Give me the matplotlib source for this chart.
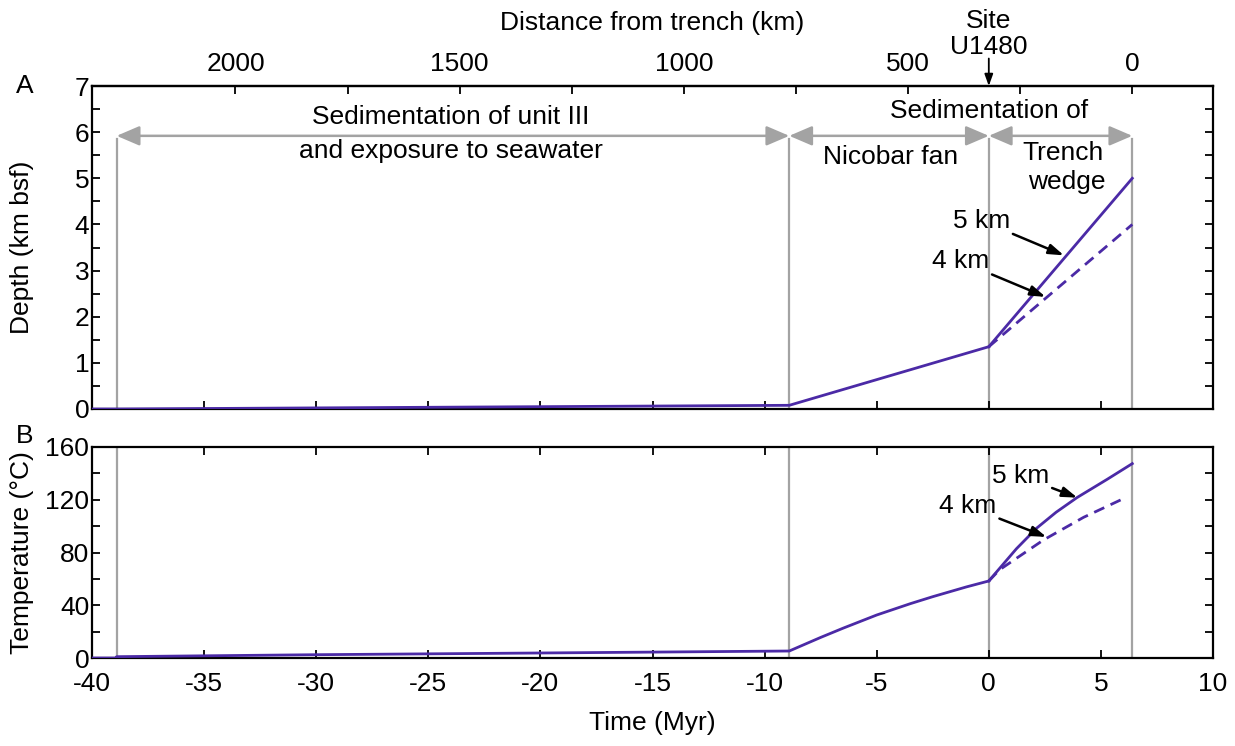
import numpy as np
import matplotlib.pyplot as plt
from matplotlib.ticker import MultipleLocator, FixedLocator

plt.rcParams['font.family'] = ['Liberation Sans', 'DejaVu Sans']
plt.rcParams['font.size'] = 19
plt.rcParams['axes.unicode_minus'] = False

# Datos
# Profundidad (km bsf) vs tiempo (Myr)
t_depth = [-40, -38.9, -8.9, 0]
depth = [0, 0.0, 0.08, 1.35]
t_wedge = [0, 6.4]
depth_5km = [1.35, 5.0]
depth_4km = [1.35, 4.0]

# Temperatura (C) vs tiempo (Myr)
t_temp = [-40, -38.9, -38.9, -30, -20, -8.9, -7.5, -6.5, -5, -3.5, -2.5, -1, 0]
temp = [0, 0, 1.0, 2.5, 3.8, 5.3, 15.6, 22.6, 32.6, 41.2, 46.5, 53.9, 58.4]
t_temp_5km = [0, 1.23, 2.13, 3.0, 3.93, 5.28, 6.4]
temp_5km = [58.4, 82.8, 98.4, 110.5, 121.6, 135.5, 147.4]
t_temp_4km = [0, 0.48, 2.43, 4.23, 6.1]
temp_4km = [58.4, 66.9, 89.4, 106.7, 121.6]

# Limites de las etapas
stage_bounds = [-38.9, -8.9, 0, 6.4]
trench_time = 6.4          # 0 km de la fosa
km_per_myr = 50.0
dist_ticks = [0, 250, 500, 750, 1000, 1250, 1500, 1750, 2000]
dist_labels = ['0', '', '500', '', '1000', '', '1500', '', '2000']

purple = '#4B2AA6'
gray = '#A3A3A3'


def t2d(t):
    return (trench_time - np.asarray(t)) * km_per_myr


def d2t(d):
    return trench_time - np.asarray(d) / km_per_myr


fig = plt.figure(figsize=(12.35, 7.46), dpi=100)
ax1 = fig.add_axes([92 / 1235, 1 - 409 / 746, 1121 / 1235, 323 / 746])
ax2 = fig.add_axes([92 / 1235, 1 - 658 / 746, 1121 / 1235, 211 / 746])

for ax in (ax1, ax2):
    for sp in ax.spines.values():
        sp.set_linewidth(1.6)
    ax.set_xlim(-40, 10)
    ax.xaxis.set_major_locator(MultipleLocator(5))
    ax.tick_params(which='both', direction='in', width=1.3, length=6,
                   right=True, labelsize=19)
    ax.tick_params(axis='y', pad=2)

# ---- Panel A: profundidad ----
ax1.set_ylim(0, 7)
ax1.yaxis.set_major_locator(MultipleLocator(1))
ax1.yaxis.set_minor_locator(MultipleLocator(0.5))
ax1.tick_params(axis='x', labelbottom=False, top=False)

for x in stage_bounds:
    ax1.plot([x, x], [0, 5.85], color=gray, lw=1.6, zorder=1)
for a, b in zip(stage_bounds[:-1], stage_bounds[1:]):
    ax1.annotate('', xy=(b, 5.92), xytext=(a, 5.92),
                 arrowprops=dict(arrowstyle='<|-|>,head_length=0.7,head_width=0.3',
                                 color=gray, lw=1.8, shrinkA=0, shrinkB=0,
                                 mutation_scale=20))

ax1.plot(t_depth, depth, color=purple, lw=2.0, zorder=3)
ax1.plot(t_wedge, depth_5km, color=purple, lw=2.0, zorder=3)
ax1.plot(t_wedge, depth_4km, color=purple, lw=2.0, ls=(0, (4, 2.5)), zorder=3)

ax1.text(-24.0, 6.33, 'Sedimentation of unit III', ha='center', va='center')
ax1.text(-24.0, 5.6, 'and exposure to seawater', ha='center', va='center')
ax1.text(0, 6.45, 'Sedimentation of', ha='center', va='center')
ax1.text(-4.4, 5.46, 'Nicobar fan', ha='center', va='center')
ax1.text(3.3, 5.55, 'Trench', ha='center', va='center')
ax1.text(3.5, 4.92, 'wedge', ha='center', va='center')

black_arrow = dict(arrowstyle='-|>,head_length=0.6,head_width=0.2', color='black',
                   lw=1.8, shrinkA=0, shrinkB=0, mutation_scale=15)
ax1.annotate('5 km', xy=(3.35, 3.33), xytext=(0.95, 4.08), ha='right', va='center',
             arrowprops=black_arrow)
ax1.annotate('4 km', xy=(2.53, 2.43), xytext=(0.02, 3.2), ha='right', va='center',
             arrowprops=black_arrow)

ax1.set_ylabel('Depth (km bsf)')
ax1.yaxis.set_label_coords(-0.052, 0.5)

# eje superior: distancia a la fosa
sec = ax1.secondary_xaxis('top', functions=(t2d, d2t))
sec.xaxis.set_major_locator(FixedLocator(dist_ticks))
sec.set_xticklabels(dist_labels)
sec.tick_params(direction='in', length=6, width=1.3, pad=7, labelsize=19)
sec.set_xlabel('Distance from trench (km)', labelpad=16)
sec.spines['top'].set_linewidth(1.6)

ax1.annotate('', xy=(0, 1.0), xytext=(0, 1.085),
             xycoords=('data', 'axes fraction'),
             arrowprops=dict(arrowstyle='-|>,head_length=0.5,head_width=0.18',
                             color='black', lw=1.3, shrinkA=0, shrinkB=0,
                             mutation_scale=14))
ax1.text(0, 1.16, 'Site\nU1480', transform=ax1.get_xaxis_transform(),
         ha='center', va='center', linespacing=1.1)

# ---- Panel B: temperatura ----
ax2.set_ylim(0, 160)
ax2.yaxis.set_major_locator(MultipleLocator(40))
ax2.yaxis.set_minor_locator(MultipleLocator(20))
ax2.tick_params(axis='x', top=True, pad=10)

for x in stage_bounds:
    ax2.axvline(x, color=gray, lw=1.6, zorder=1)

ax2.plot(t_temp, temp, color=purple, lw=2.0, zorder=3)
ax2.plot(t_temp_5km, temp_5km, color=purple, lw=2.0, zorder=3)
ax2.plot(t_temp_4km, temp_4km, color=purple, lw=2.0, ls=(0, (4, 2.5)), zorder=3)

ax2.annotate('5 km', xy=(3.95, 121.6), xytext=(2.7, 138), ha='right', va='center',
             arrowprops=black_arrow)
ax2.annotate('4 km', xy=(2.57, 91.8), xytext=(0.35, 115), ha='right', va='center',
             arrowprops=black_arrow)

ax2.set_ylabel('Temperature (°C)')
ax2.yaxis.set_label_coords(-0.052, 0.5)
ax2.set_xlabel('Time (Myr)', labelpad=11)

fig.text(25 / 1235, 1 - 86 / 746, 'A', ha='center', va='center', fontsize=19)
fig.text(25 / 1235, 1 - 436 / 746, 'B', ha='center', va='center', fontsize=19)

fig.savefig('out.png', dpi=100)
